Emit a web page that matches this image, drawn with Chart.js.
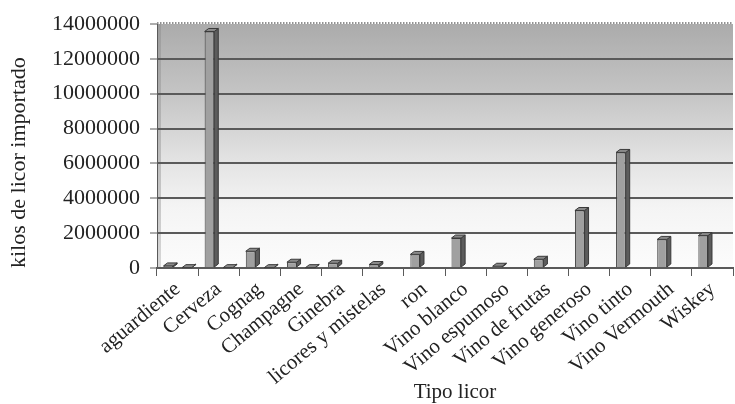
<!DOCTYPE html>
<html>
<head>
<meta charset="utf-8">
<script src="https://cdn.jsdelivr.net/npm/chart.js@4/dist/chart.umd.min.js"></script>
<style>
  html, body { margin: 0; padding: 0; background: #ffffff; }
  #wrap { width: 735px; height: 404px; position: relative; }
</style>
</head>
<body>
<div id="wrap"><canvas id="c" width="735" height="404"></canvas></div>
<script>
// Categorías (tipo de licor)
const categorias = [
  'aguardiente', 'Cerveza', 'Cognag', 'Champagne', 'Ginebra',
  'licores y mistelas', 'ron', 'Vino blanco', 'Vino espumoso',
  'Vino de frutas', 'Vino generoso', 'Vino tinto', 'Vino Vermouth', 'Wiskey'
];

// Kilos de licor importado
const kilosImportados = [
  120000, 13570000, 960000, 330000, 270000,
  200000, 780000, 1720000, 100000,
  500000, 3300000, 6630000, 1640000, 1860000
];

// Segunda serie, casi nula
const kilosSerie2 = [
  20000, 20000, 20000, 20000, 0,
  0, 0, 0, 0,
  0, 0, 0, 0, 0
];

// Marcas del eje vertical
const ejeYMin = 0;
const ejeYMax = 14000000;
const ejeYPaso = 2000000;

const tituloX = 'Tipo licor';
const tituloY = 'kilos de licor importado';

const FUENTE = '"Liberation Serif", "Times New Roman", serif';
const GRIS_REJILLA = '#5a5a5a';

// Fondo degradado del área de trazado y pared izquierda
const fondoPlugin = {
  id: 'fondo',
  beforeDraw(chart) {
    const { ctx, chartArea: a } = chart;
    ctx.save();
    const g = ctx.createLinearGradient(0, a.top, 0, a.bottom);
    g.addColorStop(0, '#ababab');
    g.addColorStop(0.3, '#c6c6c6');
    g.addColorStop(0.55, '#e2e2e2');
    g.addColorStop(0.75, '#f4f4f4');
    g.addColorStop(1, '#fcfcfc');
    ctx.fillStyle = g;
    ctx.fillRect(a.left, a.top, a.right - a.left, a.bottom - a.top);
    // pared lateral
    const w = ctx.createLinearGradient(0, a.top, 0, a.bottom);
    w.addColorStop(0, '#9c9c9c');
    w.addColorStop(1, '#d8d8d8');
    ctx.fillStyle = w;
    ctx.fillRect(a.left, a.top, 4, a.bottom - a.top);
    // borde superior punteado
    ctx.strokeStyle = '#6e6e6e';
    ctx.lineWidth = 1.5;
    ctx.setLineDash([1.5, 1.5]);
    ctx.beginPath();
    ctx.moveTo(a.left, a.top - 1);
    ctx.lineTo(a.right, a.top - 1);
    ctx.stroke();
    ctx.restore();
  }
};

// Caras lateral y superior de cada barra (efecto 3D)
const barras3D = {
  id: 'barras3D',
  afterDatasetsDraw(chart) {
    const { ctx } = chart;
    const dx = 4, dy = 3;
    ctx.save();
    chart.data.datasets.forEach((ds, i) => {
      const meta = chart.getDatasetMeta(i);
      meta.data.forEach((bar, j) => {
        if (!ds.data[j]) return;
        const { x, y, base, width } = bar.getProps(['x', 'y', 'base', 'width'], true);
        const l = x - width / 2, r = x + width / 2;
        ctx.strokeStyle = '#3a3a3a';
        ctx.lineWidth = 1;
        // lateral
        ctx.fillStyle = '#5c5c5c';
        ctx.beginPath();
        ctx.moveTo(r, y);
        ctx.lineTo(r + dx, y - dy);
        ctx.lineTo(r + dx, base - dy);
        ctx.lineTo(r, base);
        ctx.closePath();
        ctx.fill();
        ctx.stroke();
        // superior
        ctx.fillStyle = '#8a8a8a';
        ctx.beginPath();
        ctx.moveTo(l, y);
        ctx.lineTo(l + dx, y - dy);
        ctx.lineTo(r + dx, y - dy);
        ctx.lineTo(r, y);
        ctx.closePath();
        ctx.fill();
        ctx.stroke();
      });
    });
    ctx.restore();
  }
};

// Título del eje horizontal
const tituloEjeX = {
  id: 'tituloEjeX',
  afterDraw(chart) {
    const { ctx, chartArea: a } = chart;
    ctx.save();
    ctx.font = '21px ' + FUENTE;
    ctx.fillStyle = '#222222';
    ctx.textAlign = 'center';
    ctx.textBaseline = 'middle';
    ctx.fillText(tituloX, (a.left + a.right) / 2 + 10, 392);
    ctx.restore();
  }
};

new Chart(document.getElementById('c'), {
  type: 'bar',
  data: {
    labels: categorias,
    datasets: [
      {
        label: 'Kilos importados',
        data: kilosImportados,
        backgroundColor: '#a0a0a0',
        borderColor: '#3c3c3c',
        borderWidth: 1,
        categoryPercentage: 0.9,
        barPercentage: 0.52
      },
      {
        label: 'Serie 2',
        data: kilosSerie2,
        backgroundColor: '#a0a0a0',
        borderColor: '#3c3c3c',
        borderWidth: 1,
        categoryPercentage: 0.9,
        barPercentage: 0.52
      }
    ]
  },
  options: {
    responsive: false,
    animation: false,
    devicePixelRatio: 1,
    layout: { padding: { top: 24, right: 2, left: 0, bottom: 0 } },
    plugins: {
      legend: { display: false },
      tooltip: { enabled: false }
    },
    scales: {
      y: {
        min: ejeYMin,
        max: ejeYMax,
        afterFit(scale) { scale.width = 157; },
        ticks: {
          stepSize: ejeYPaso,
          color: '#222222',
          padding: 10,
          font: { family: FUENTE, size: 22 },
          callback: (v) => String(v)
        },
        grid: {
          color: (c) => (c.tick && c.tick.value === ejeYMax ? 'rgba(0,0,0,0)' : GRIS_REJILLA),
          lineWidth: 2,
          tickLength: 7,
          tickColor: GRIS_REJILLA,
          tickWidth: 1
        },
        border: { display: true, color: GRIS_REJILLA, width: 1 },
        title: {
          display: true,
          text: tituloY,
          align: 'start',
          color: '#222222',
          font: { family: FUENTE, size: 22 },
          padding: { top: 6, bottom: 0 }
        }
      },
      x: {
        afterFit(scale) { scale.height = 136; },
        ticks: {
          minRotation: 40,
          maxRotation: 40,
          autoSkip: false,
          color: '#222222',
          padding: 1,
          font: { family: FUENTE, size: 21 }
        },
        grid: {
          drawOnChartArea: false,
          tickLength: 8,
          tickColor: GRIS_REJILLA,
          tickWidth: 1
        },
        border: { display: true, color: GRIS_REJILLA, width: 2 }
      }
    }
  },
  plugins: [fondoPlugin, barras3D, tituloEjeX]
});
</script>
</body>
</html>
